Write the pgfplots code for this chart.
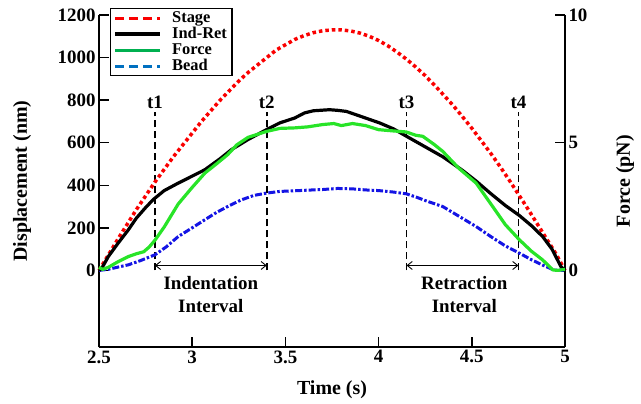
\documentclass[border=0pt]{standalone}
\usepackage{fontspec}
\setmainfont{Liberation Serif}
\usepackage{pgfplots}
\usepackage{pgfplotstable}
\pgfplotsset{compat=1.18}
\usetikzlibrary{arrows.meta}

\definecolor{stagered}{RGB}{250,0,0}
\definecolor{forcegreen}{RGB}{40,228,40}
\definecolor{legendgreen}{RGB}{0,176,80}
\definecolor{beadblue}{RGB}{20,20,228}
\definecolor{legendblue}{RGB}{0,112,192}

% displacement (nm)
\pgfplotstableread{
t v
2.50 0
2.55 72
2.60 145
2.65 215
2.70 285
2.75 350
2.80 415
2.85 475
2.90 535
2.95 590
3.00 645
3.05 700
3.10 750
3.15 800
3.20 845
3.25 890
3.30 930
3.35 965
3.40 1000
3.45 1035
3.50 1060
3.55 1085
3.60 1103
3.65 1117
3.70 1126
3.75 1130
3.80 1130
3.85 1125
3.90 1115
3.95 1100
4.00 1080
4.05 1055
4.10 1025
4.15 992
4.20 955
4.25 915
4.30 870
4.35 823
4.40 775
4.45 722
4.50 668
4.55 610
4.60 552
4.65 490
4.70 425
4.75 358
4.80 290
4.85 220
4.90 150
4.95 80
5.00 0
}\stage

\pgfplotstableread{
t v
2.50 0
2.515 10
2.55 65
2.60 125
2.657 190
2.70 245
2.75 295
2.79 332
2.85 375
2.925 410
3.00 443
3.068 473
3.15 525
3.21 567
3.30 615
3.398 661
3.47 693
3.55 716
3.603 740
3.65 750
3.737 755
3.78 752
3.827 747
3.90 725
4.005 693
4.08 665
4.166 622
4.255 578
4.344 534
4.45 470
4.523 420
4.60 362
4.68 305
4.755 258
4.82 210
4.88 159
4.93 100
4.978 18
5.00 0
}\indret

\pgfplotstableread{
t v
2.50 0
2.55 5
2.60 15
2.657 26
2.72 45
2.80 73
2.86 110
2.925 159
3.00 200
3.068 238
3.13 272
3.19 300
3.26 330
3.33 352
3.398 363
3.47 371
3.55 374
3.62 377
3.70 380
3.78 385
3.86 383
3.93 378
4.00 375
4.08 368
4.148 360
4.20 345
4.26 325
4.344 300
4.43 255
4.523 206
4.60 160
4.68 115
4.755 81
4.82 50
4.88 25
4.94 2
5.00 0
}\bead

% force (pN)
\pgfplotstableread{
t f
2.50 0.12
2.52 0.04
2.55 0.12
2.60 0.33
2.657 0.54
2.70 0.65
2.74 0.73
2.77 0.92
2.80 1.18
2.85 1.70
2.925 2.60
3.00 3.25
3.068 3.81
3.13 4.17
3.19 4.53
3.24 4.92
3.30 5.21
3.398 5.44
3.47 5.56
3.55 5.58
3.62 5.62
3.70 5.71
3.76 5.75
3.80 5.67
3.86 5.75
3.93 5.67
4.00 5.51
4.08 5.46
4.148 5.42
4.20 5.29
4.237 5.25
4.30 4.92
4.344 4.66
4.43 4.00
4.523 3.42
4.612 2.50
4.68 1.79
4.755 1.20
4.82 0.75
4.88 0.41
4.934 0.02
4.96 0.00
5.00 0.04
}\force

\pgfplotsset{
  base/.style={
    scale only axis, width=466bp, height=332bp,
    at={(0,0)}, anchor=south west,
    xmin=2.5, xmax=5,
    clip=false,
    tick align=inside,
    major tick length=10bp,
    /pgf/number format/assume math mode=true,
    /pgf/number format/1000 sep={},
    tick label style={font=\bfseries\fontsize{19}{19}\selectfont},
    axis line style={line width=2bp,-},
    every tick/.style={black, line width=1.5bp},
  },
  longline/.style={legend image code/.code={\draw[##1] (0bp,0bp) -- (45bp,0bp);}},
}

\begin{document}
\begin{tikzpicture}
\useasboundingbox (-99bp,-57bp) rectangle (542bp,347bp);

\begin{axis}[base,
    axis x line*=bottom, axis y line*=left,
    ymin=-360, ymax=1200,
    ytick={0,200,400,600,800,1000,1200},
    xtick={2.5,3,3.5,4,4.5,5},
    xlabel={Time (s)}, ylabel={Displacement (nm)},
    every axis x label/.style={at={(axis description cs:0.5,-0.13)}, anchor=center,
        font=\bfseries\fontsize{20}{20}\selectfont},
    every axis y label/.style={at={(axis description cs:-0.165,0.5)}, rotate=90, anchor=center,
        font=\bfseries\fontsize{20}{20}\selectfont},
]
% interval markers
\addplot[black, line width=1.6bp, dash pattern=on 7bp off 4bp] coordinates {(2.8,0) (2.8,742)};
\addplot[black, line width=1.6bp, dash pattern=on 7bp off 4bp] coordinates {(3.4,0) (3.4,742)};
\addplot[black, line width=1.6bp, dash pattern=on 7bp off 4bp] coordinates {(4.15,0) (4.15,742)};
\addplot[black, line width=1.6bp, dash pattern=on 7bp off 4bp] coordinates {(4.75,0) (4.75,742)};
\addplot[black, line width=0.9bp, {Straight Barb[length=5bp,width=8bp]}-{Straight Barb[length=5bp,width=8bp]}] coordinates {(2.8,23) (3.4,23)};
\addplot[black, line width=0.9bp, {Straight Barb[length=5bp,width=8bp]}-{Straight Barb[length=5bp,width=8bp]}] coordinates {(4.15,23) (4.75,23)};

\addplot[stagered, line width=3.5bp, dash pattern=on 3.5bp off 3bp] table[x=t, y=v] {\stage};
\addplot[beadblue, line width=3bp, dash pattern=on 7bp off 2bp on 2.5bp off 2bp] table[x=t, y=v] {\bead};
\addplot[black, line width=3.2bp] table[x=t, y=v] {\indret};

\node[font=\bfseries\fontsize{19}{19}\selectfont] at (axis cs:2.8,790) {t1};
\node[font=\bfseries\fontsize{19}{19}\selectfont] at (axis cs:3.4,790) {t2};
\node[font=\bfseries\fontsize{19}{19}\selectfont] at (axis cs:4.15,790) {t3};
\node[font=\bfseries\fontsize{19}{19}\selectfont] at (axis cs:4.75,790) {t4};
\node[font=\bfseries\fontsize{19}{23}\selectfont, align=center] at (axis cs:3.1,-115) {Indentation\\Interval};
\node[font=\bfseries\fontsize{19}{23}\selectfont, align=center] at (axis cs:4.46,-115) {Retraction\\Interval};
\end{axis}

\begin{axis}[base,
    axis x line=none, axis y line*=right,
    ymin=-3, ymax=10,
    ytick={0,5,10},
    ylabel={Force (pN)},
    every axis y label/.style={at={(axis description cs:1.129,0.5)}, rotate=90, anchor=center,
        font=\bfseries\fontsize{20}{20}\selectfont},
    legend style={at={(axis description cs:0.0236,1.021)}, anchor=north west,
        draw=black, line width=1.3bp, fill=white,
        font=\bfseries\fontsize{16.5}{16.5}\selectfont,
        cells={anchor=west}, inner xsep=3bp, inner ysep=2bp, row sep=1bp,
        nodes={inner ysep=0bp, text height=11.5bp, text depth=3.5bp},
        /tikz/every odd column/.append style={column sep=8bp}},
]
\addplot[forcegreen, line width=3.2bp, forget plot] table[x=t, y=f] {\force};
\addlegendimage{longline, stagered, line width=3bp, dash pattern=on 9bp off 5bp}
\addlegendentry{Stage}
\addlegendimage{longline, black, line width=3.5bp}
\addlegendentry{Ind-Ret}
\addlegendimage{longline, legendgreen, line width=3bp}
\addlegendentry{Force}
\addlegendimage{longline, legendblue, line width=3bp, dash pattern=on 9bp off 5bp}
\addlegendentry{Bead}
\end{axis}
\end{tikzpicture}
\end{document}
